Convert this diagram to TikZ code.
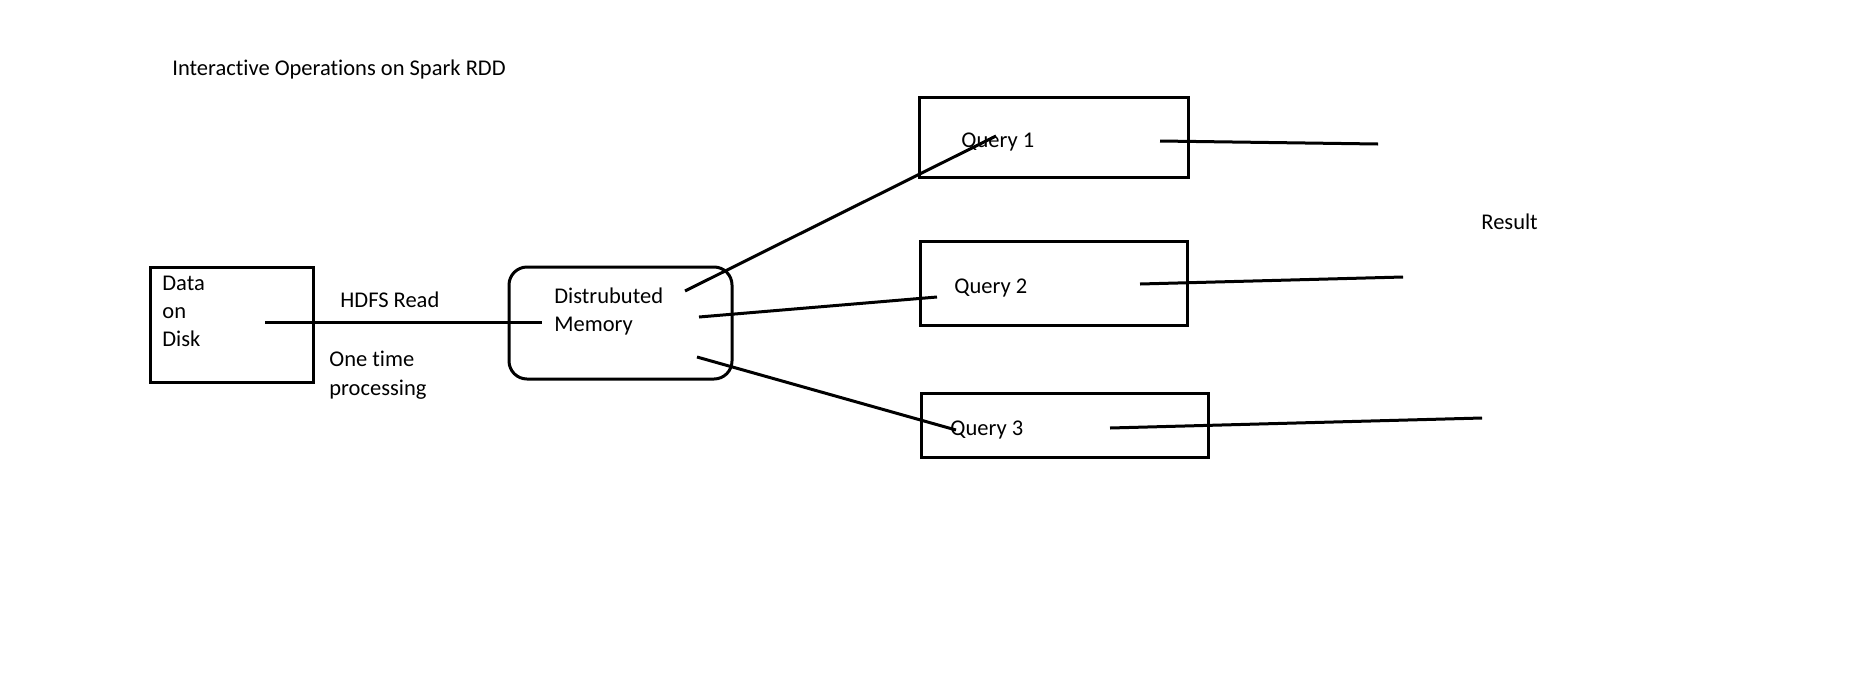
\documentclass[tikz,border=0pt]{standalone}
\usepackage{fontspec}
\setmainfont{Carlito}[Ligatures=NoCommon]
\usetikzlibrary{positioning}

\tikzset{
  box/.style={draw, line width=1.5pt, inner sep=0pt, outer sep=0pt},
  lbl/.style={anchor=west, inner sep=0pt, yshift=-1.3pt, align=left, font=\fontsize{11.25}{14}\selectfont},
  link/.style={line width=1.5pt},
}

\begin{document}
\begin{tikzpicture}[x=0.5pt, y=-0.5pt]
    \useasboundingbox (0,0) rectangle (1850,691);
    \node[lbl] (title) at (172,67){Interactive Operations on Spark RDD};
    % boxes
    \node[box, minimum width=81.5pt, minimum height=57.5pt] (disk) at (231.5,324.5){};
    \node[box, rounded corners=9pt, minimum width=111.5pt, minimum height=56pt] (mem) at (620.5,323){};
    \node[box, minimum width=134.5pt, minimum height=40pt] (q1) at (1053.5,137){};
    \node[box, minimum width=133.5pt, minimum height=42pt] (q2) at (1053.5,283){};
    \node[box, minimum width=143.5pt, minimum height=32pt] (q3) at (1064.5,425){};
    % texts
    \node[lbl] (disktxt) at (162,309){Data\\on\\Disk};
    \node[lbl] (memtxt) at (554,309){Distrubuted\\Memory};
    \node[lbl] (read) at (340,297){HDFS Read};
    \node[lbl, font=\fontsize{11.25}{14.5}\selectfont] (once) at (329,372.5){One time\\processing};
    \node[lbl] (q1txt) at (961,139){Query 1};
    \node[lbl] (q2txt) at (954,285){Query 2};
    \node[lbl] (q3txt) at (950,427){Query 3};
    \node[lbl] (result) at (1481,219){Result};
    % line ends
    \coordinate (d0) at (265,322);
    \coordinate (m0) at (542,322);
    \coordinate (m1) at (685,291);
    \coordinate (m2) at (699,317);
    \coordinate (m3) at (697,357);
    \coordinate (e1) at (996,136);
    \coordinate (e2) at (937,297);
    \coordinate (e3) at (956,430);
    \coordinate (s1) at (1160,141);
    \coordinate (s2) at (1140,284);
    \coordinate (s3) at (1110,428);
    \coordinate (r1) at (1378,144);
    \coordinate (r2) at (1403,277);
    \coordinate (r3) at (1482,418);
    % connectors
    \draw[link] (d0)--(m0);
    \draw[link] (m1)--(e1);
    \draw[link] (m2)--(e2);
    \draw[link] (m3)--(e3);
    \draw[link] (s1)--(r1);
    \draw[link] (s2)--(r2);
    \draw[link] (s3)--(r3);
  \end{tikzpicture}
\end{document}
